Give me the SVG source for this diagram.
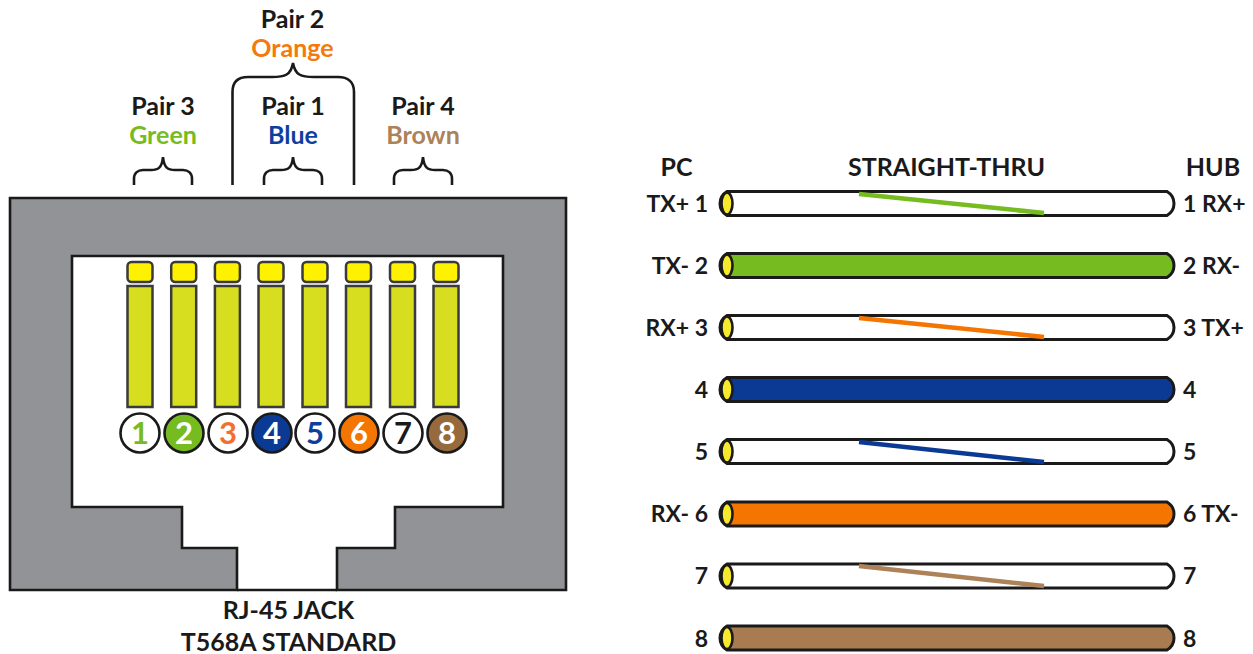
<svg xmlns="http://www.w3.org/2000/svg" width="1253" height="654" viewBox="0 0 1253 654">
<style>
text{font-family:Lato,"Open Sans","Liberation Sans",sans-serif;font-weight:700;font-size:23px;fill:#1a1a1a}
.h{font-size:25px}
.m{text-anchor:middle}.e{text-anchor:end}.s{text-anchor:start}
.n{font-size:31px;text-anchor:middle}
.brace{fill:none;stroke:#1a1a1a;stroke-width:2.6}
.pt{fill:#fff200;stroke:#3a3a3a;stroke-width:2.5}
.pb{fill:#d6de1f;stroke:#3a3a3a;stroke-width:2.5}
.c{stroke:#1a1a1a;stroke-width:2.6}
.cable{stroke:#1a1a1a;stroke-width:3}
.end{fill:#f7e92b;stroke:#1a1a1a;stroke-width:2.6}
.st{stroke-width:4.500;fill:none}
</style>
<defs>
<path id="b" class="brace" d="M-29 28V22C-29 16-25 13-20 13H-12C-5 13-1 11 0 0C1 11 5 13 12 13H20C25 13 29 16 29 22V28"/>
<rect id="ptop" class="pt" x="-12.5" y="0" width="25" height="20" rx="4"/>
<rect id="pbot" class="pb" x="-12.5" y="0" width="25" height="121"/>
<g id="cab"><path d="M727 -12H1167C1172 -9 1174 -5 1174 0C1174 5 1172 9 1167 12H727C722 9 720 5 720 0C720 -5 722 -9 727 -12Z"/><ellipse class="end" cx="727" cy="0" rx="5.5" ry="11"/></g>
</defs>
<g id="jack">
<path d="M10 198H566V590H337V548H395V507H503V256H72V507H182V548H237V590H10Z" fill="#929396" stroke="#1a1a1a" stroke-width="2.6"/>
<path d="M237 590H337" stroke="#1a1a1a" stroke-width="2.6" fill="none"/>
</g>
<g id="pair-labels">
<text class="m h" x="292.500" y="28">Pair 2</text><text class="m h" x="292.500" y="57" style="fill:#f47a0b">Orange</text>
<text class="m h" x="163" y="115">Pair 3</text><text class="m h" x="163" y="144" style="fill:#76bc21">Green</text>
<text class="m h" x="293" y="115">Pair 1</text><text class="m h" x="293" y="144" style="fill:#0f3f9e">Blue</text>
<text class="m h" x="423" y="115">Pair 4</text><text class="m h" x="423" y="144" style="fill:#ad8258">Brown</text>
</g>
<g id="braces">
<use href="#b" x="163" y="157"/><use href="#b" x="293" y="157"/><use href="#b" x="423" y="157"/>
<path class="brace" d="M232.500 185V92C232.500 82 238 77 248 77H272C285 77 291 75 293 63C295 75 301 77 314 77H338C348 77 354 82 354 92V185"/>
</g>
<g id="pins">
<use href="#ptop" x="140" y="262"/><use href="#ptop" x="183.700" y="262"/><use href="#ptop" x="227.400" y="262"/><use href="#ptop" x="271" y="262"/><use href="#ptop" x="315" y="262"/><use href="#ptop" x="358.500" y="262"/><use href="#ptop" x="402.500" y="262"/><use href="#ptop" x="446" y="262"/>
<use href="#pbot" x="140" y="286"/><use href="#pbot" x="183.700" y="286"/><use href="#pbot" x="227.400" y="286"/><use href="#pbot" x="271" y="286"/><use href="#pbot" x="315" y="286"/><use href="#pbot" x="358.500" y="286"/><use href="#pbot" x="402.500" y="286"/><use href="#pbot" x="446" y="286"/>
</g>
<g id="pin-1"><circle class="c" cx="140" cy="433" r="19.500" fill="#fff"/><text class="n" x="140" y="444" style="fill:#76bc21">1</text></g>
<g id="pin-2"><circle class="c" cx="184" cy="433" r="19.500" fill="#76bc21"/><text class="n" x="184" y="444" style="fill:#fff">2</text></g>
<g id="pin-3"><circle class="c" cx="228" cy="433" r="19.500" fill="#fff"/><text class="n" x="228" y="444" style="fill:#f26f31">3</text></g>
<g id="pin-4"><circle class="c" cx="272" cy="433" r="19.500" fill="#0b3a94"/><text class="n" x="272" y="444" style="fill:#fff">4</text></g>
<g id="pin-5"><circle class="c" cx="315" cy="433" r="19.500" fill="#fff"/><text class="n" x="315" y="444" style="fill:#0f3f9e">5</text></g>
<g id="pin-6"><circle class="c" cx="359" cy="433" r="19.500" fill="#f47500"/><text class="n" x="359" y="444" style="fill:#fff">6</text></g>
<g id="pin-7"><circle class="c" cx="403" cy="433" r="19.500" fill="#fff"/><text class="n" x="403" y="444" style="fill:#1a1a1a">7</text></g>
<g id="pin-8"><circle class="c" cx="447" cy="433" r="19.500" fill="#966a3c"/><text class="n" x="447" y="444" style="fill:#fff">8</text></g>
<g id="jack-labels">
<text class="m h" x="288.500" y="619">RJ-45 JACK</text>
<text class="m h" x="288.500" y="651">T568A STANDARD</text>
</g>
<g id="cable-heads">
<text class="m h" x="676.500" y="176">PC</text><text class="m h" x="946.500" y="176">STRAIGHT-THRU</text><text class="m h" x="1213" y="176">HUB</text>
</g>
<g id="connectors">
<use href="#cab" y="203.500" class="cable" fill="#fff"/>
<path class="st" stroke="#76bc21" d="M859 194L1044 213"/>
<use href="#cab" y="265.500" class="cable" fill="#76bc21"/>
<use href="#cab" y="327.500" class="cable" fill="#fff"/>
<path class="st" stroke="#f47500" d="M859 318L1044 337"/>
<use href="#cab" y="389.500" class="cable" fill="#0b3a94"/>
<use href="#cab" y="451.500" class="cable" fill="#fff"/>
<path class="st" stroke="#0b3a94" d="M859 442L1044 462"/>
<use href="#cab" y="514" class="cable" fill="#f47500"/>
<use href="#cab" y="576" class="cable" fill="#fff"/>
<path class="st" stroke="#ad8258" d="M859 566L1044 586"/>
<use href="#cab" y="638" class="cable" fill="#a87c50"/>
</g>
<g id="pc-labels">
<text class="e" x="708" y="212">TX+ 1</text><text class="e" x="708" y="274">TX- 2</text><text class="e" x="708" y="336">RX+ 3</text><text class="e" x="708" y="398">4</text><text class="e" x="708" y="460">5</text><text class="e" x="708" y="522">RX- 6</text><text class="e" x="708" y="584">7</text><text class="e" x="708" y="647">8</text>
</g>
<g id="hub-labels">
<text class="s" x="1183" y="212">1 RX+</text><text class="s" x="1183" y="274">2 RX-</text><text class="s" x="1183" y="336">3 TX+</text><text class="s" x="1183" y="398">4</text><text class="s" x="1183" y="460">5</text><text class="s" x="1183" y="522">6 TX-</text><text class="s" x="1183" y="584">7</text><text class="s" x="1183" y="647">8</text>
</g>
</svg>
